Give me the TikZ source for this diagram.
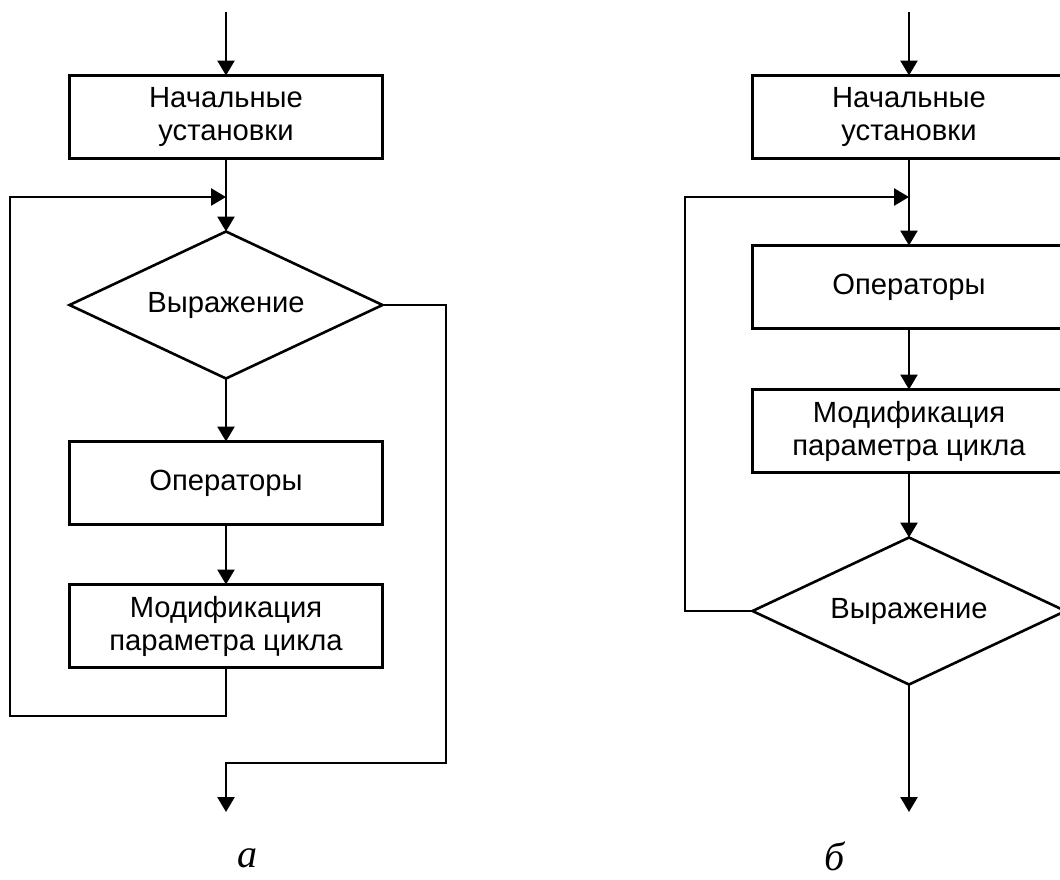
\documentclass[tikz,border=0pt]{standalone}
\usepackage{fontspec}
\setmainfont{Liberation Sans}
\newfontfamily\labelfont{Liberation Serif}
\usetikzlibrary{arrows.meta,shapes.geometric}

\begin{document}
\begin{tikzpicture}[x=0.5pt,y=-0.5pt,line width=1.3pt,
    >={Triangle[length=7.5pt,width=8.5pt]},
    blockbox/.style={draw,rectangle,outer sep=0pt,minimum width=156.5pt,minimum height=41.5pt,
        align=center,font=\fontsize{14.6}{16.5}\selectfont},
    condbox/.style={draw,diamond,aspect=2.13,inner sep=0pt,outer sep=0pt,minimum width=156.5pt,
        minimum height=73.5pt,font=\fontsize{14.6}{16.5}\selectfont},
    figlabel/.style={font=\labelfont\itshape\fontsize{20}{24}\selectfont}]
            \useasboundingbox (0,0) rectangle (1060,879);
            \clip             (0,0) rectangle (1060,879);

            \coordinate (a0)   at (226, 12);
            \node[blockbox]    (a1) at (226,117) {Начальные\\установки};
            \coordinate (aj)   at (226,197);
            \node[condbox]     (a2) at (226,305) {Выражение};
            \node[blockbox]    (a3) at (226,483) {Операторы};
            \node[blockbox]    (a4) at (226,626) {Модификация\\параметра цикла};
            \coordinate (al)   at ( 10,716);
            \coordinate (ar)   at (446,763);
            \coordinate (aend) at (226,812);
            \node[figlabel]    (la) at (247,858) {а};

            \draw[->] (a0) -- (a1);
            \draw     (a1) -- (aj);
            \draw[->] (aj) -- (a2);
            \draw[->] (a2) -- (a3);
            \draw[->] (a3) -- (a4);
            \draw[->] (a4.south) |- (al) |- (aj);
            \draw[->] (a2.east)  -| (ar) -| (aend);

            \coordinate (b0)   at (909, 12);
            \node[blockbox]    (b1) at (909,117) {Начальные\\установки};
            \coordinate (bj)   at (909,197);
            \node[blockbox]    (b2) at (909,287) {Операторы};
            \node[blockbox]    (b3) at (909,431) {Модификация\\параметра цикла};
            \node[condbox]     (b4) at (909,611) {Выражение};
            \coordinate (bl)   at (685,197);
            \coordinate (bend) at (909,812);
            \node[figlabel]    (lb) at (835,856) {б};

            \draw[->] (b0) -- (b1);
            \draw     (b1) -- (bj);
            \draw[->] (bj) -- (b2);
            \draw[->] (b2) -- (b3);
            \draw[->] (b3) -- (b4);
            \draw[->] (b4.west) -| (bl) -- (bj);
            \draw[->] (b4) -- (bend);
\end{tikzpicture}
\end{document}
